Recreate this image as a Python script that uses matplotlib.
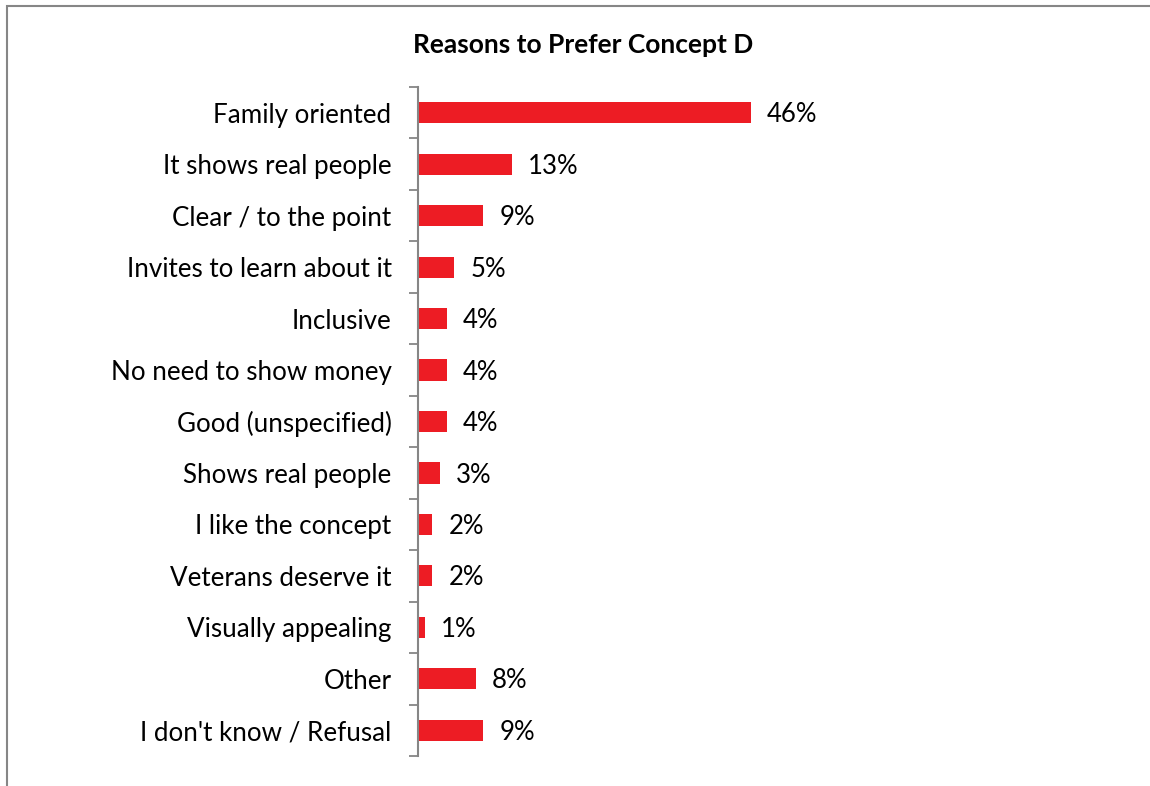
import matplotlib.pyplot as plt
from matplotlib.patches import Rectangle
import numpy as np

W, H = 1150, 786

reasons = ["Family oriented", "It shows real people", "Clear / to the point",
           "Invites to learn about it", "Inclusive", "No need to show money",
           "Good (unspecified)", "Shows real people", "I like the concept",
           "Veterans deserve it", "Visually appealing", "Other",
           "I don't know / Refusal"]
shares = [46, 13, 9, 5, 4, 4, 4, 3, 2, 2, 1, 8, 9]

plt.rcParams['font.family'] = ['Lato', 'DejaVu Sans']

fig = plt.figure(figsize=(W / 100, H / 100), dpi=100)

# grey frame that runs off the right and bottom edges
fig.patches.append(Rectangle((7 / W, -0.1), 1.2, 1 - 6 / H + 0.1,
                             transform=fig.transFigure, fill=False,
                             edgecolor='#868686', linewidth=1.5))

# plot area in pixel terms: left spine at x=418, rows from y=87 to y=756
px_per_pct = 7.24
xmax = 60
left, top, bottom = 418, 87, 756
ax = fig.add_axes([left / W, 1 - bottom / H, xmax * px_per_pct / W, (bottom - top) / H])

y = np.arange(len(reasons))
ax.barh(y, shares, height=0.41, color='#ED1C24')
for yi, v in zip(y, shares):
    ax.annotate(f"{v}%", (v, yi), xytext=(11.5, -1.5), textcoords='offset points',
                ha='left', va='center', fontsize=18.5, color='black')

ax.set_xlim(0, xmax)
ax.set_ylim(len(reasons) - 0.5, -0.5)
ax.set_yticks(y)
ax.set_yticklabels(reasons, fontsize=18.7)
ax.tick_params(axis='y', which='major', length=0, pad=19)
ax.set_yticks(np.arange(len(reasons) + 1) - 0.5, minor=True)
ax.tick_params(axis='y', which='minor', length=6.5, width=1.3, color='#868686')
ax.set_xticks([])
for s in ('top', 'right', 'bottom'):
    ax.spines[s].set_visible(False)
ax.spines['left'].set_color('#868686')
ax.spines['left'].set_linewidth(1.5)

fig.text(583 / W, 1 - 45 / H, "Reasons to Prefer Concept D", ha='center', va='center',
         fontsize=19, fontweight='bold')

fig.savefig('out.png', dpi=100)
